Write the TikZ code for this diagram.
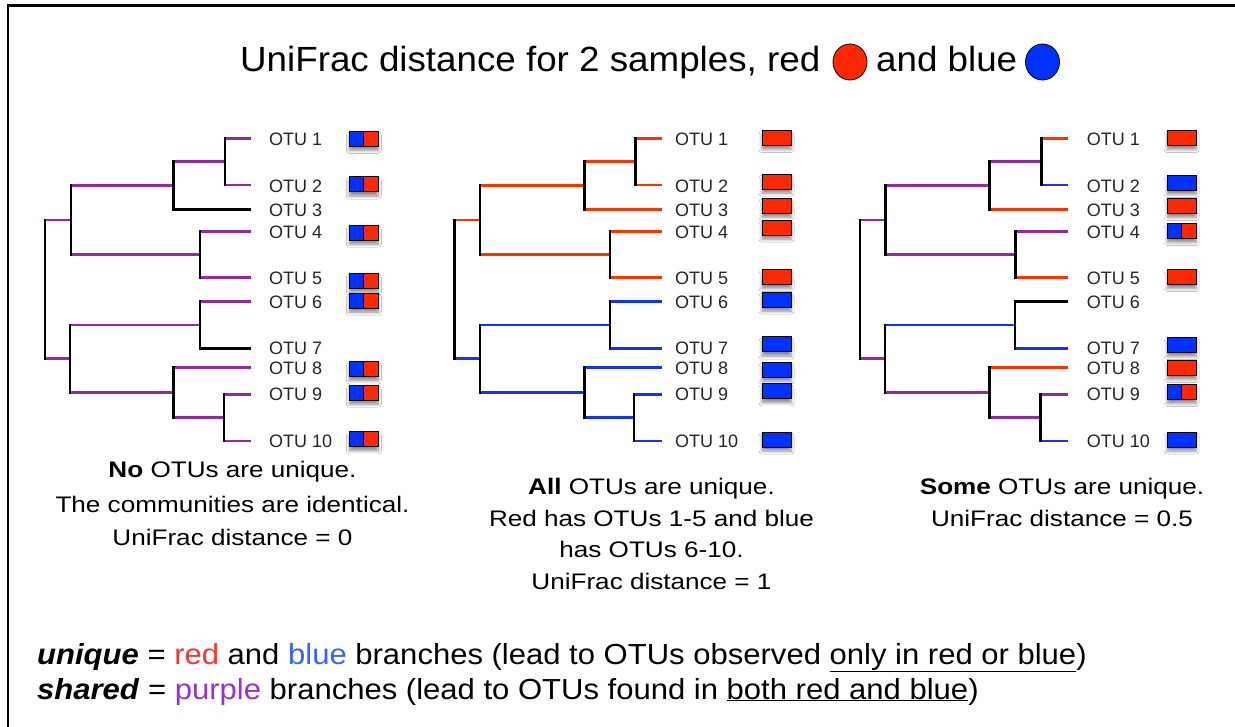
\documentclass[tikz,border=0pt]{standalone}
\usepackage{fontspec}
\setmainfont{Liberation Sans}
\newfontfamily\titlefont[FakeStretch=1.05]{Liberation Sans}
\newfontfamily\capfont[FakeStretch=1.16]{Liberation Sans}
\newfontfamily\botfont[FakeStretch=1.07]{Liberation Sans}
\usetikzlibrary{shadows.blur,shapes.geometric}
\definecolor{brred}{RGB}{255,51,0}
\definecolor{brblue}{RGB}{20,50,255}
\definecolor{brpurp}{RGB}{150,40,160}
\definecolor{boxred}{RGB}{255,40,0}
\definecolor{boxblue}{RGB}{0,50,255}
\definecolor{txred}{RGB}{255,50,50}
\definecolor{txblue}{RGB}{50,100,255}
\definecolor{txpurp}{RGB}{153,51,204}
\tikzset{
  br/.style={line width=2.9pt},
  vbr/.style={line width=2.9pt, draw=black, line cap=rect},
  otulab/.style={anchor=west, inner sep=0pt, font=\fontsize{18}{20}\selectfont, text=black!85},
  boxshadow/.style={blur shadow={shadow xshift=0pt, shadow yshift=-4pt, shadow blur steps=6, shadow blur radius=3pt, shadow opacity=45}},
  onebox/.style={draw=black, line width=1pt, minimum width=29pt, minimum height=15pt, inner sep=0pt, boxshadow},
  redbox/.style={onebox, fill=boxred},
  bluebox/.style={onebox, fill=boxblue},
  splitbox/.style={onebox, fill=boxred, path picture={
      \fill[boxblue] (path picture bounding box.south west) rectangle (path picture bounding box.north);
      \draw[line width=1pt] (path picture bounding box.south) -- (path picture bounding box.north);}},
  captext/.style={anchor=base, inner sep=0pt, font=\capfont\fontsize{22.5}{26}\selectfont},
  bottext/.style={anchor=base west, inner sep=0pt, font=\botfont\fontsize{29}{32}\selectfont},
  dot/.style={draw=black, line width=0.8pt, ellipse, minimum width=34pt, minimum height=36pt, inner sep=0pt},
}
\newcommand\drawtree[1]{%
  \coordinate (#1l1) at (\XL,138.3);
  \coordinate (#1l2) at (\XL,185);
  \coordinate (#1l3) at (\XL,209.3);
  \coordinate (#1l4) at (\XL,231.7);
  \coordinate (#1l5) at (\XL,277.3);
  \coordinate (#1l6) at (\XL,301.7);
  \coordinate (#1l7) at (\XL,348.3);
  \coordinate (#1l8) at (\XL,367.3);
  \coordinate (#1l9) at (\XL,394.3);
  \coordinate (#1l10) at (\XL,441);
  \coordinate (#1n12) at (\Xa,161.7);
  \coordinate (#1n123) at (\Xb,185.5);
  \coordinate (#1n45) at (\Xc,254.5);
  \coordinate (#1nA) at (\Xd,220);
  \coordinate (#1n67) at (\Xe,325);
  \coordinate (#1n910) at (\Xf,417.7);
  \coordinate (#1n8) at (\Xg,392.5);
  \coordinate (#1nC) at (\Xh,358.7);
  \coordinate (#1root) at (\Xi,289.4);
  \draw[br,e1] (#1n12 |- #1l1) -- (#1l1);
  \draw[br,e2] (#1n12 |- #1l2) -- (#1l2);
  \draw[br,e12] (#1n123 |- #1n12) -- (#1n12);
  \draw[br,e3] (#1n123 |- #1l3) -- (#1l3);
  \draw[br,e123] (#1nA |- #1n123) -- (#1n123);
  \draw[br,e4] (#1n45 |- #1l4) -- (#1l4);
  \draw[br,e5] (#1n45 |- #1l5) -- (#1l5);
  \draw[br,e45] (#1nA |- #1n45) -- (#1n45);
  \draw[br,eA] (#1root |- #1nA) -- (#1nA);
  \draw[br,e6] (#1n67 |- #1l6) -- (#1l6);
  \draw[br,e7] (#1n67 |- #1l7) -- (#1l7);
  \draw[br,e67] (#1nC |- #1n67) -- (#1n67);
  \draw[br,e8] (#1n8 |- #1l8) -- (#1l8);
  \draw[br,e9] (#1n910 |- #1l9) -- (#1l9);
  \draw[br,e10] (#1n910 |- #1l10) -- (#1l10);
  \draw[br,e910] (#1n8 |- #1n910) -- (#1n910);
  \draw[br,e8910] (#1nC |- #1n8) -- (#1n8);
  \draw[br,eC] (#1root |- #1nC) -- (#1nC);
  \draw[vbr] (#1n12 |- #1l1) -- (#1n12 |- #1l2);
  \draw[vbr] (#1n123 |- #1n12) -- (#1n123 |- #1l3);
  \draw[vbr] (#1n45 |- #1l4) -- (#1n45 |- #1l5);
  \draw[vbr] (#1nA |- #1n123) -- (#1nA |- #1n45);
  \draw[vbr] (#1n67 |- #1l6) -- (#1n67 |- #1l7);
  \draw[vbr] (#1n910 |- #1l9) -- (#1n910 |- #1l10);
  \draw[vbr] (#1n8 |- #1l8) -- (#1n8 |- #1n910);
  \draw[vbr] (#1nC |- #1n67) -- (#1nC |- #1n8);
  \draw[vbr] (#1root |- #1nA) -- (#1root |- #1nC);
  \foreach \k/\yy in {1/139.3,2/186,3/210.3,4/232.7,5/278.3,6/302.7,7/348.3,8/368.3,9/394.3,10/441}
    \node[otulab] (#1lab\k) at (\XT,\yy) {OTU \k};
}
\begin{document}
\begin{tikzpicture}[x=1pt,y=-1pt]
\useasboundingbox (0,0) rectangle (1235,727);
\fill[white] (0,0) rectangle (1235,727);
% frame
\draw[line width=3.2pt] (6.5,5.6) -- (1235,5.6);
\draw[line width=2.3pt] (7.8,4) -- (7.8,727);
% title
\node[anchor=base west, inner sep=0pt, font=\titlefont\fontsize{35}{40}\selectfont] (title) at (240,72) {UniFrac distance for 2 samples, red};
\node[dot, fill=boxred] (redc) at (850,62) {};
\node[anchor=base west, inner sep=0pt, font=\titlefont\fontsize{35}{40}\selectfont] (andblue) at (876,72) {and blue};
\node[dot, fill=boxblue] (bluec) at (1042.5,62) {};
% tree 1
\tikzset{e1/.style={draw=brpurp},e2/.style={draw=brpurp},e12/.style={draw=brpurp},e3/.style={draw=black},
 e123/.style={draw=brpurp},e4/.style={draw=brpurp},e5/.style={draw=brpurp},e45/.style={draw=brpurp},
 eA/.style={draw=brpurp},e6/.style={draw=brpurp},e7/.style={draw=black},e67/.style={draw=brpurp},
 e8/.style={draw=brpurp},e9/.style={draw=brpurp},e10/.style={draw=brpurp},e910/.style={draw=brpurp},
 e8910/.style={draw=brpurp},eC/.style={draw=brpurp}}
\def\XL{250.7}\def\XT{269}\def\Xa{225}\def\Xb{173.3}\def\Xc{200}\def\Xd{71}\def\Xe{200}\def\Xf{224}\def\Xg{173.3}\def\Xh{70}\def\Xi{45}
\drawtree{a}
\node[splitbox] (ab1) at (363.8,138.8) {};
\node[splitbox] (ab2) at (363.8,184.5) {};
\node[splitbox] (ab4) at (363.8,232.7) {};
\node[splitbox] (ab5) at (363.8,280.7) {};
\node[splitbox] (ab6) at (363.8,300.7) {};
\node[splitbox] (ab8) at (363.8,369.3) {};
\node[splitbox] (ab9) at (363.8,392.7) {};
\node[splitbox] (ab10) at (363.8,439.3) {};
% tree 2
\tikzset{e1/.style={draw=brred},e2/.style={draw=brred},e12/.style={draw=brred},e3/.style={draw=brred},
 e123/.style={draw=brred},e4/.style={draw=brred},e5/.style={draw=brred},e45/.style={draw=brred},
 eA/.style={draw=brred},e6/.style={draw=brblue},e7/.style={draw=brblue},e67/.style={draw=brblue},
 e8/.style={draw=brblue},e9/.style={draw=brblue},e10/.style={draw=brblue},e910/.style={draw=brblue},
 e8910/.style={draw=brblue},eC/.style={draw=brblue}}
\def\XL{661.7}\def\XT{675}\def\Xa{635.7}\def\Xb{584.3}\def\Xc{610}\def\Xd{480}\def\Xe{610}\def\Xf{634}\def\Xg{584.3}\def\Xh{480}\def\Xi{454.3}
\drawtree{b}
\node[redbox] (bb1) at (776.5,138) {};
\node[redbox] (bb2) at (776.5,181.7) {};
\node[redbox] (bb3) at (776.5,205.8) {};
\node[redbox] (bb4) at (776.5,227.7) {};
\node[redbox] (bb5) at (776.5,277) {};
\node[bluebox] (bb6) at (776.5,299.7) {};
\node[bluebox] (bb7) at (776.5,344.5) {};
\node[bluebox] (bb8) at (776.5,369.7) {};
\node[bluebox] (bb9) at (776.5,391.3) {};
\node[bluebox] (bb10) at (776.5,439.5) {};
% tree 3
\tikzset{e1/.style={draw=brred},e2/.style={draw=brblue},e12/.style={draw=brpurp},e3/.style={draw=brred},
 e123/.style={draw=brpurp},e4/.style={draw=brpurp},e5/.style={draw=brred},e45/.style={draw=brpurp},
 eA/.style={draw=brpurp},e6/.style={draw=black},e7/.style={draw=brblue},e67/.style={draw=brblue},
 e8/.style={draw=brred},e9/.style={draw=brpurp},e10/.style={draw=brblue},e910/.style={draw=brpurp},
 e8910/.style={draw=brpurp},eC/.style={draw=brpurp}}
\def\XL{1068.3}\def\XT{1086.7}\def\Xa{1041.7}\def\Xb{989.3}\def\Xc{1015.7}\def\Xd{885.7}\def\Xe{1015}\def\Xf{1040.7}\def\Xg{989.3}\def\Xh{885}\def\Xi{860}
\drawtree{c}
\node[redbox] (cb1) at (1181.7,138) {};
\node[bluebox] (cb2) at (1181.7,183) {};
\node[redbox] (cb3) at (1181.7,206) {};
\node[splitbox] (cb4) at (1181.7,231) {};
\node[redbox] (cb5) at (1181.7,277) {};
\node[bluebox] (cb7) at (1181.7,345) {};
\node[redbox] (cb8) at (1181.7,368) {};
\node[splitbox] (cb9) at (1181.7,392) {};
\node[bluebox] (cb10) at (1181.7,439.5) {};
% captions
\node[captext] (ca1) at (232.5,477) {\textbf{No} OTUs are unique.};
\node[captext] (ca2) at (232.5,512) {The communities are identical.};
\node[captext] (ca3) at (232.5,545) {UniFrac distance = 0};
\node[captext] (cb1t) at (651.5,494) {\textbf{All} OTUs are unique.};
\node[captext] (cb2t) at (651.5,526) {Red has OTUs 1-5 and blue};
\node[captext] (cb3t) at (651.5,557) {has OTUs 6-10.};
\node[captext] (cb4t) at (651.5,589) {UniFrac distance = 1};
\node[captext] (cc1t) at (1062,494) {\textbf{Some} OTUs are unique.};
\node[captext] (cc2t) at (1062,526) {UniFrac distance = 0.5};
% legend
\node[bottext] (leg1) at (37,664) {\textbf{\textit{unique}} = {\color{txred}red} and {\color{txblue}blue} branches (lead to OTUs observed \underline{only in red or blue})};
\node[bottext] (leg2) at (37,699) {\textbf{\textit{shared}} = {\color{txpurp}purple} branches (lead to OTUs found in \underline{both red and blue})};
\end{tikzpicture}
\end{document}
